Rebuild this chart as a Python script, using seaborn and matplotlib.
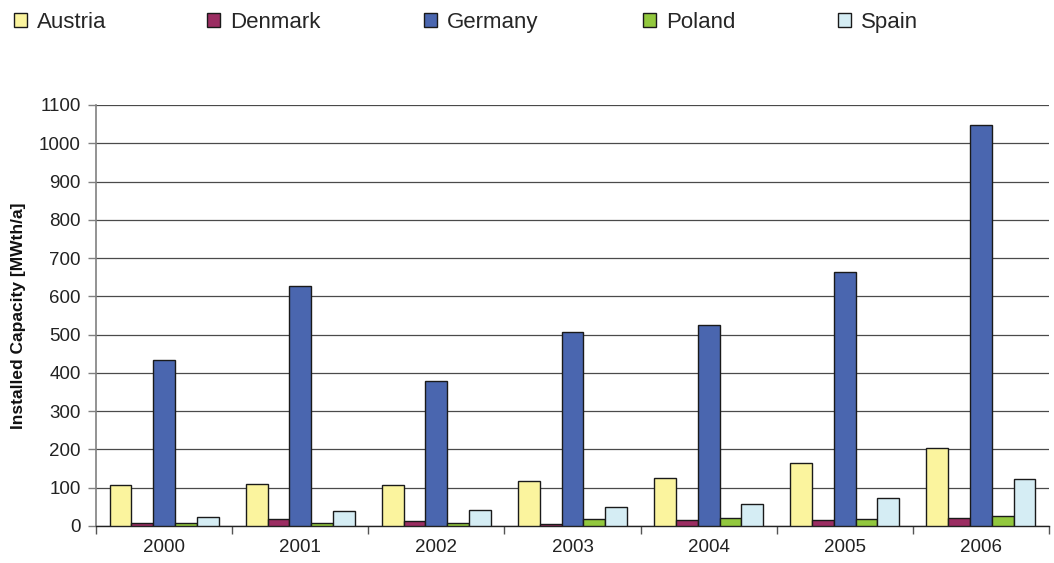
import matplotlib
matplotlib.use("Agg")
import matplotlib.pyplot as plt
from matplotlib.patches import Patch
from matplotlib.ticker import FixedLocator, MultipleLocator
import numpy as np
import pandas as pd
import seaborn as sns

years = ["2000", "2001", "2002", "2003", "2004", "2005", "2006"]
countries = ["Austria", "Denmark", "Germany", "Poland", "Spain"]
austria = [108, 111, 108, 117, 126, 165, 203]
denmark = [9, 18, 13, 6, 16, 16, 21]
germany = [434, 628, 380, 506, 524, 664, 1049]
poland = [8, 8, 9, 18, 21, 18, 26]
spain = [24, 40, 43, 50, 58, 74, 124]
colors = ["#FBF49E", "#9B2D62", "#4A66AF", "#92C83E", "#D5EDF4"]

series = {"Austria": austria, "Denmark": denmark, "Germany": germany,
          "Poland": poland, "Spain": spain}
df = pd.DataFrame([
    {"Year": y, "Country": c, "Capacity": v}
    for c in countries for y, v in zip(years, series[c])
])

sns.set_theme(style="white")
plt.rcParams["font.family"] = ["Liberation Sans", "DejaVu Sans"]

W, H = 1054, 563
fig = plt.figure(figsize=(W / 100, H / 100), dpi=100)
ax = fig.add_axes([96 / W, 37 / H, 953 / W, 421 / H])

sns.barplot(data=df, x="Year", y="Capacity", hue="Country", order=years,
            hue_order=countries, palette=colors, width=0.8, ax=ax,
            edgecolor="#1a1a1a", linewidth=1.0, saturation=1, legend=False,
            zorder=3)

ax.set_ylim(0, 1100)
ax.set_xlim(-0.5, len(years) - 0.5)
ax.yaxis.set_major_locator(MultipleLocator(100))
ax.grid(axis="y", color="#4a4a4a", linewidth=0.9, zorder=0)
ax.set_axisbelow(True)

for side in ["top", "right"]:
    ax.spines[side].set_visible(False)
ax.spines["left"].set_color("#808080")
ax.spines["left"].set_linewidth(1.2)
ax.spines["bottom"].set_color("#222222")
ax.spines["bottom"].set_linewidth(1.0)

ax.tick_params(axis="y", which="major", length=6, width=1, color="#808080",
               labelsize=13.5, labelcolor="#222222", pad=5, left=True)
ax.tick_params(axis="x", which="major", length=0, labelsize=13.5,
               labelcolor="#222222", pad=9)
ax.xaxis.set_minor_locator(FixedLocator(np.arange(-0.5, len(years), 1.0)))
ax.tick_params(axis="x", which="minor", length=6, width=1, color="#555555",
               bottom=True)

ax.set_xlabel("")
ax.set_ylabel("Installed Capacity [MWth/a]", fontsize=12.5, fontweight="bold",
              color="#111111", labelpad=9)

# one legend entry per country, spread along the top edge
legend_x = [14, 207, 424, 643, 838]
for name, col, lx in zip(countries, colors, legend_x):
    handle = Patch(facecolor=col, edgecolor="#1a1a1a", linewidth=1.0)
    fig.legend([handle], [name], loc="center left",
               bbox_to_anchor=(lx / W, 1 - 22.5 / H), frameon=False,
               fontsize=16, handlelength=0.6, handleheight=0.6,
               handletextpad=0.45, borderpad=0, borderaxespad=0)

fig.savefig("out.png", dpi=100)
